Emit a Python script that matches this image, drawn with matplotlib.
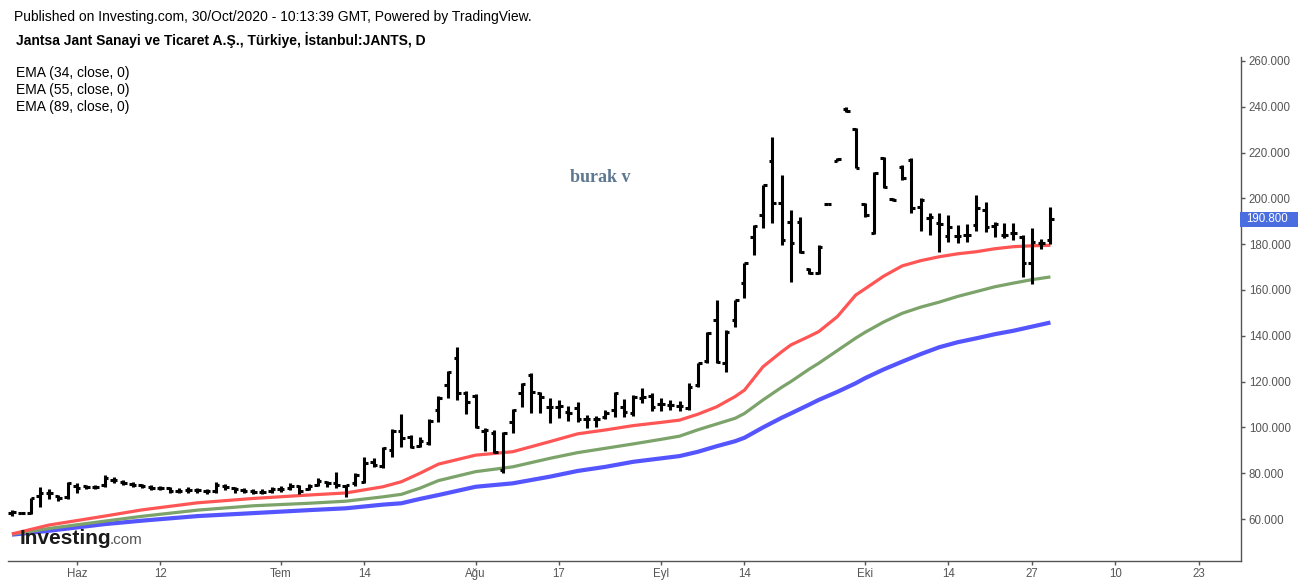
import numpy as np
import matplotlib.pyplot as plt
from matplotlib.patches import Rectangle
from matplotlib.transforms import blended_transform_factory

plt.rcParams['font.family'] = ['Liberation Sans', 'DejaVu Sans']

# daily OHLC, one entry per trading day (index 0 .. 112)
opens = [62.8, 62.6, 62.7, 70.0, 71.6, 70.0, 69.6, 74.4, 74.6, 74.2,
         74.8, 77.0, 76.3, 75.5, 74.8, 74.0, 73.6, 73.4, 72.4, 72.6,
         72.8, 72.4, 72.4, 74.4, 73.6, 72.8, 72.3, 72.0, 72.2, 73.0,
         73.6, 74.4, 73.2, 74.8, 76.0, 75.6, 74.4, 75.6, 76.3, 84.8,
         83.1, 90.1, 98.5, 95.9, 92.0, 93.0, 107.6, 118.5, 130.2, 115.2,
         113.7, 98.5, 97.7, 81.4, 102.5, 114.9, 122.9, 114.9, 109.0, 109.0,
         106.9, 108.3, 103.9, 103.5, 104.4, 107.6, 108.8, 106.2, 113.0, 113.7,
         110.2, 109.8, 109.3, 108.3, 118.5, 129.1, 146.9, 128.0, 146.9, 162.9,
         183.3, 192.8, 216.4, 197.9, 189.8, 189.8, 169.0, 167.5, 197.6, 216.4,
         239.2, 230.2, 197.6, 185.0, 217.5, 199.9, 213.9, 216.8, 196.4, 191.5,
         189.1, 183.6, 183.6, 184.0, 188.4, 194.9, 188.0, 184.0, 185.0, 183.3,
         171.7, 180.4, 181.8]
highs = [63.9, 63.2, 69.2, 74.1, 73.0, 70.5, 76.3, 75.7, 75.0, 74.8,
         79.2, 78.5, 77.0, 76.3, 75.3, 74.8, 74.4, 74.0, 73.5, 74.0,
         73.5, 73.0, 76.3, 75.3, 74.1, 73.4, 73.0, 73.0, 74.0, 74.4,
         75.9, 74.8, 75.3, 77.8, 76.7, 80.7, 74.8, 80.0, 87.2, 86.5,
         91.6, 99.2, 105.9, 96.7, 95.9, 103.5, 113.7, 124.8, 135.2, 116.0,
         114.6, 99.6, 98.9, 98.1, 107.9, 119.3, 123.9, 115.6, 112.7, 112.0,
         109.3, 111.2, 105.4, 105.0, 107.6, 115.6, 112.3, 114.2, 117.0, 114.9,
         112.7, 112.0, 111.7, 119.5, 128.3, 141.8, 155.6, 142.5, 155.6, 171.7,
         188.4, 205.8, 226.9, 210.3, 194.9, 192.0, 169.5, 179.7, 197.8, 217.8,
         239.7, 230.6, 197.9, 211.7, 217.9, 200.0, 214.6, 217.5, 200.0, 193.5,
         193.8, 192.8, 188.4, 188.8, 201.5, 198.6, 189.8, 189.4, 189.1, 184.0,
         186.9, 182.1, 196.4]
lows = [61.5, 62.0, 62.4, 65.4, 68.7, 68.0, 68.7, 71.4, 73.0, 73.2,
        74.0, 75.6, 74.8, 74.0, 73.4, 72.7, 72.7, 71.5, 71.4, 71.5,
        71.5, 71.0, 71.5, 72.7, 71.6, 71.2, 71.0, 71.0, 71.5, 72.0,
        72.7, 71.0, 72.7, 74.4, 74.1, 73.4, 69.5, 74.4, 75.6, 82.6,
        82.1, 87.0, 91.3, 90.9, 91.3, 92.3, 102.5, 112.7, 112.0, 105.9,
        99.6, 89.8, 89.0, 80.2, 97.4, 109.0, 106.1, 106.1, 101.8, 104.0,
        103.0, 102.5, 99.6, 100.3, 103.5, 104.4, 104.4, 105.0, 110.8, 107.3,
        107.3, 107.6, 107.3, 107.6, 117.5, 128.3, 128.0, 124.3, 144.0, 156.4,
        175.3, 186.9, 189.1, 179.7, 163.6, 176.0, 167.0, 167.0, 197.4, 216.3,
        237.5, 213.2, 192.0, 184.6, 204.4, 199.0, 208.0, 193.5, 185.9, 184.0,
        176.7, 181.1, 180.7, 181.1, 185.9, 185.5, 183.0, 182.6, 181.8, 165.8,
        162.6, 177.8, 180.1]
closes = [63.0, 62.6, 69.0, 71.2, 71.4, 69.0, 75.6, 73.5, 74.0, 74.0,
          77.8, 77.0, 75.8, 74.8, 74.3, 73.6, 73.4, 72.2, 72.4, 72.8,
          72.6, 72.2, 74.8, 74.0, 73.0, 72.3, 72.0, 72.0, 73.0, 73.3,
          74.4, 72.4, 74.4, 76.8, 75.6, 74.8, 74.8, 79.2, 84.3, 83.7,
          90.9, 98.6, 95.4, 91.6, 94.0, 102.9, 112.7, 124.3, 114.9, 111.2,
          100.0, 99.0, 89.4, 97.4, 107.6, 118.9, 115.6, 113.4, 109.0, 109.2,
          106.5, 103.9, 103.9, 103.5, 106.5, 114.9, 106.9, 113.4, 113.4, 108.8,
          110.2, 109.8, 109.3, 117.8, 128.0, 141.1, 128.7, 141.8, 155.6, 171.7,
          187.9, 205.8, 197.9, 181.8, 180.4, 176.7, 167.5, 178.9, 197.6, 217.2,
          238.0, 213.4, 192.8, 211.2, 204.8, 199.4, 208.8, 195.7, 199.3, 191.7,
          188.8, 187.6, 183.6, 184.0, 195.7, 187.6, 188.8, 184.0, 185.0, 171.7,
          181.1, 180.4, 190.8]

# EMA values at selected trading days
ema_days = [0, 4, 10, 14, 20, 26, 32, 36, 40, 42, 44, 46, 50, 54, 58, 61,
            64, 67, 70, 72, 74, 76, 78, 79, 81, 83, 84, 86, 87, 89, 91, 92,
            94, 96, 98, 100, 102, 104, 106, 108, 110, 112]
ema34 = [53.5, 57.4, 61.3, 64.0, 67.1, 69.0, 70.5, 71.4, 74.1, 76.3, 80.0,
         84.0, 87.9, 89.4, 93.8, 97.2, 98.9, 100.8, 102.2, 103.2, 105.8,
         109.0, 113.5, 116.3, 126.5, 133.0, 136.0, 139.8, 141.8, 148.3,
         157.8, 160.5, 166.0, 170.5, 172.8, 174.5, 175.8, 176.7, 178.0,
         178.9, 179.3, 179.5]
ema55 = [53.4, 55.9, 59.1, 61.2, 63.9, 65.8, 66.9, 67.8, 69.7, 70.8, 73.5,
         76.8, 80.7, 82.8, 86.5, 89.0, 90.9, 92.8, 94.8, 96.2, 99.0,
         101.5, 104.0, 106.1, 112.0, 117.5, 120.0, 125.5, 128.0, 133.5,
         139.0, 141.5, 146.0, 149.8, 152.5, 154.7, 157.2, 159.3, 161.4,
         163.0, 164.5, 165.7]
ema89 = [53.2, 54.9, 57.8, 59.3, 61.3, 62.6, 63.9, 64.7, 66.3, 66.9, 68.8,
         70.5, 74.1, 75.6, 78.5, 81.0, 82.8, 85.0, 86.5, 87.5, 89.4,
         91.8, 94.0, 95.5, 100.0, 104.2, 106.1, 110.0, 112.0, 115.5,
         119.3, 121.5, 125.3, 128.7, 132.0, 135.0, 137.2, 138.9, 140.7,
         142.2, 144.0, 145.8]

tick_days = [7, 16, 29, 38, 50, 59, 70, 79, 92, 101, 110, 119, 128]
tick_labels = ['Haz', '12', 'Tem', '14', 'Ağu', '17', 'Eyl', '14', 'Eki',
               '14', '27', '10', '23']
price_ticks = [60, 80, 100, 120, 140, 160, 180, 200, 220, 240, 260]

W, H = 1298, 584
fig = plt.figure(figsize=(W / 100, H / 100), dpi=100)
fig.patch.set_facecolor('white')
ax = fig.add_axes([8 / W, (H - 561) / H, (1240.5 - 8) / W, (561 - 57) / H])

x = np.arange(len(closes))
o, h, l, c = map(np.array, (opens, highs, lows, closes))
tw = 0.38
ax.vlines(x, l, h, color='black', lw=2.2, zorder=3)
ax.hlines(o, x - tw, x, color='black', lw=2.2, zorder=3)
ax.hlines(c, x, x + tw, color='black', lw=2.2, zorder=3)

line_kw = dict(zorder=2, solid_capstyle='butt', solid_joinstyle='round')
ax.plot(ema_days, ema89, color='#5555ff', lw=3.0, **line_kw)
ax.plot(ema_days, ema55, color='#7ba36a', lw=2.3, **line_kw)
ax.plot(ema_days, ema34, color='#ff5555', lw=2.3, **line_kw)

ax.set_xlim(-0.43, 132.5)
ax.set_ylim(41.7, 261.7)

for s in ('top', 'left'):
    ax.spines[s].set_visible(False)
for s in ('bottom', 'right'):
    ax.spines[s].set_color('#555555')
    ax.spines[s].set_linewidth(1)

ax.yaxis.tick_right()
ax.set_yticks(price_ticks)
ax.set_yticklabels([f'{v:.3f}' for v in price_ticks])
ax.set_xticks(tick_days)
ax.set_xticklabels(tick_labels)
ax.tick_params(axis='both', direction='out', length=3, width=1,
               color='#555555', labelcolor='#555555', labelsize=8.3, pad=3)
ax.tick_params(axis='x', pad=2)

# last price marker on the price scale
tr = blended_transform_factory(ax.transAxes, ax.transData)
last = closes[-1]
ax.add_patch(Rectangle((0.9995, last - 3.4), 0.05, 6.8, transform=tr,
                       facecolor='#4a6ee0', edgecolor='none', clip_on=False, zorder=5))
ax.text(1.0045, last, f'{last:.3f}', transform=tr, color='white', fontsize=8.3,
        va='center', ha='left', zorder=6, clip_on=False)

fig.text(14 / W, 1 - 17 / H,
         'Published on Investing.com, 30/Oct/2020 - 10:13:39 GMT, Powered by TradingView.',
         fontsize=10, va='center', ha='left', color='black')
fig.text(16 / W, 1 - 40 / H,
         'Jantsa Jant Sanayi ve Ticaret A.Ş., Türkiye, İstanbul:JANTS, D',
         fontsize=10, fontweight='bold', va='center', ha='left', color='black')
for i, p in enumerate([34, 55, 89]):
    fig.text(16 / W, 1 - (73 + 17 * i) / H, f'EMA ({p}, close, 0)',
             fontsize=10, va='center', ha='left', color='black')

fig.text(600 / W, 1 - 177 / H, 'burak v', family=['Liberation Serif', 'DejaVu Serif'],
         fontweight='bold', fontsize=13, color='#5f7891', ha='center', va='center')

fig.text(20 / W, 1 - 544 / H, 'Investing', fontsize=15, fontweight='bold',
         color='#1a1a1a', ha='left', va='baseline', zorder=10)
fig.text(110 / W, 1 - 544 / H, '.com', fontsize=11, color='#555555',
         ha='left', va='baseline', zorder=10)

fig.savefig('out.png', dpi=100, facecolor='white')
